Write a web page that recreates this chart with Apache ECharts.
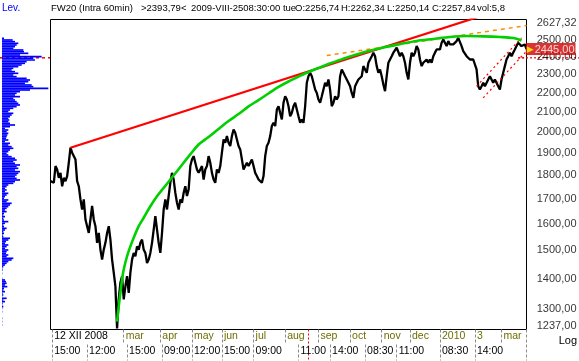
<!DOCTYPE html>
<html><head><meta charset="utf-8">
<script src="https://cdn.jsdelivr.net/npm/echarts@6/dist/echarts.min.js"></script>
<style>html,body{margin:0;padding:0;background:#fff}#c{width:579px;height:361px}</style>
</head><body><div id="c"></div>
<script>
// ---- hourly closes (FW20, 60 min bars, sampled) ----
const closes = [
1774,1781,1767,1840,1825,1788,1810,1752,1788,1774,
1796,1855,1924,1901,1908,1870,1774,1752,1697,1656,
1697,1616,1590,1564,1616,1670,1616,1590,1527,1564,
1502,1466,1502,1527,1564,1590,1539,1466,1420,1374,
1240,1331,1386,1408,1331,1374,1408,1352,1420,1466,
1490,1478,1514,1502,1527,1539,1502,1490,1454,1466,
1490,1527,1577,1629,1577,1527,1490,1564,1656,1697,
1656,1711,1767,1810,1781,1724,1683,1656,1697,1683,
1724,1752,1711,1738,1840,1870,1885,1855,1825,1810,
1825,1840,1781,1825,1840,1885,1855,1810,1781,1767,
1825,1810,1840,1901,1963,1947,1979,1947,1932,1979,
2011,1995,1963,1932,1916,1870,1825,1840,1855,1840,
1855,1870,1840,1810,1796,1781,1781,1767,1796,1885,
1932,1947,1979,2028,2044,2028,2111,2128,2094,2061,
2146,2180,2163,2128,2077,2094,2128,2146,2111,2077,
2044,2061,2044,2128,2253,2289,2308,2289,2253,2216,
2198,2163,2146,2180,2216,2253,2234,2271,2216,2128,
2146,2180,2163,2180,2289,2327,2308,2289,2271,2253,
2234,2198,2172,2234,2253,2271,2262,2289,2346,2327,
2308,2365,2384,2403,2424,2403,2346,2308,2327,2289,
2243,2207,2289,2365,2384,2403,2424,2433,2453,2443,
2403,2424,2403,2365,2308,2271,2365,2424,2403,2424,
2463,2443,2384,2346,2365,2355,2384,2365,2384,2365,
2403,2424,2443,2433,2443,2483,2503,2483,2463,2493,
2473,2483,2473,2483,2493,2513,2503,2463,2433,2424,
2403,2394,2384,2394,2384,2394,2327,2234,2216,2234,
2253,2234,2243,2271,2289,2271,2253,2271,2253,2234,
2216,2271,2308,2346,2384,2403,2424,2403,2424,2443,
2463,2483,2473,2463,2453,2473,2445
];

// ---- volume-at-price profile (top price level first) ----
const profileVolumes = [
6,32,39,49,44,39,34,64,66,79,
54,119,94,99,74,69,59,49,34,29,
39,49,34,44,74,84,79,69,89,94,
139,84,54,44,39,54,34,39,44,49,
54,44,34,24,19,34,29,24,19,22,
19,24,39,24,9,19,14,19,16,14,
12,19,9,24,19,29,34,24,19,14,
19,29,39,44,34,39,54,44,49,39,
54,49,44,39,44,54,39,34,19,14,
9,14,9,19,14,9,6,19,14,29,
24,19,14,9,14,6,4,9,4,6,
19,9,4,6,14,9,4,6,2,4,
24,19,12,9,19,14,9,19,14,12,
19,14,34,29,19,14,9,4,1,2,
0,1,0,0,1,9,12,14,9,16,
6,4,9,2,4,1,14,4,9,2,
1,4,1,0,1,0,0,0,1,0,
1,0,1
];

// ---- drawing tools (bar index, price) ----
const greenIdx = [40,41,42,43,44,46,48,50,53,56,60,64,68,72,76,80,84,89,95,101,107,113,119,125,131,137,143,149,155,161,167,173,180,190,200,210,220,230,240,250,260,270,278,283];
const greenVal = [1261,1309,1352,1397,1431,1478,1514,1546,1590,1623,1669,1710,1745,1781,1817,1855,1893,1939,1975,2014,2053,2088,2127,2160,2195,2230,2260,2287,2313,2335,2358,2378,2401,2431,2455,2475,2494,2506,2518,2524,2522,2518,2512,2497];
const trendIdx = [12, 286];
const trendVal = [1924, 2745];
const tangentIdx = [166, 286];
const tangentVal = [2407, 2589];
const chanUpIdx = [256, 283];
const chanUpVal = [2234, 2513];
const chanLoIdx = [260, 286];
const chanLoVal = [2172, 2433];
const levelPrice = 2393.79;
const levelIdx = [281, 286];

// ---- axis ----
const yMin = 1237, yMax = 2627.32;
const yTicks = [2627.32, 2500, 2400, 2300, 2200, 2100, 2000, 1900, 1800, 1700, 1600, 1500, 1400, 1300, 1237];
const monthTickIdx = [1, 44, 66, 85, 103, 122, 141, 161, 180, 199, 216, 234, 255, 271];
const monthTickText = ['12 XII 2008','mar','apr','may','jun','jul','aug','sep','oct','nov','dec','2010','3','mar'];
const timeTickIdx = [1, 22, 46, 67, 85, 103, 122, 149, 168, 189, 208, 234, 255];
const timeTickText = ['15:00','12:00','15:00','09:00','12:00','15:00','09:00','11:00','14:00','08:30','11:00','08:30','14:00'];
const cursorIdx = 155;

// ---- header texts ----
const headerTexts = ['FW20 (Intra 60min)', '>2393,79<', '2009-VIII-2508:30:00 tue', 'O:2256,74', 'H:2262,34', 'L:2250,14', 'C:2257,84', 'vol:5,8'];
const headerLeft = [51, 141, 191, 295, 341, 387, 432, 477];

const N = closes.length;
const lastPrice = closes[N - 1];
const categories = closes.map((_, i) => String(i));
const fmt = v => v.toFixed(2).replace('.', ',');
const monthMap = {}; monthTickIdx.forEach((k, j) => monthMap[k] = monthTickText[j]);
const timeMap = {}; timeTickIdx.forEach((k, j) => timeMap[k] = timeTickText[j]);
const FONT = 'Liberation Sans';
const pairs = (ix, vs) => ix.map((k, j) => [k, vs[j]]);

const titles = [{text: 'Lev.', left: 2, top: 3, padding: 0, textStyle: {color: '#0000ff', fontSize: 10, fontWeight: 'normal', fontFamily: FONT}}];
headerTexts.forEach((t, j) => titles.push({text: t, left: headerLeft[j], top: 3, padding: 0,
  textStyle: {color: '#000', fontSize: 9.5, fontWeight: 'normal', fontFamily: FONT}}));
titles.push({text: 'Log', right: 2, top: 335, padding: 0, textStyle: {color: '#000', fontSize: 11, fontWeight: 'normal', fontFamily: FONT}});

const tickLabelData = yTicks.map(v => {
  const d = {value: [1, v]};
  if (v === yMax) d.label = {offset: [0, 3]};
  if (v === yMin) d.label = {offset: [0, -4]};
  return d;
});

const hiddenLog = gi => ({gridIndex: gi, type: 'log', min: yMin, max: yMax, show: false});

const option = {
  animation: false,
  backgroundColor: '#fff',
  textStyle: {fontFamily: FONT},
  title: titles,
  grid: [
    {left: 50.5, top: 19.5, width: 476, height: 310, show: true, borderColor: '#000', borderWidth: 1, backgroundColor: 'transparent'},
    {left: 2, width: 50, top: 37.5, height: 288.3},
    {left: 518, right: 0, top: 19.5, height: 310},
    {left: 0, width: 50, top: 19.5, height: 310}
  ],
  xAxis: [
    {gridIndex: 0, type: 'category', data: categories, boundaryGap: false,
      axisLine: {show: false}, splitLine: {show: false},
      axisTick: {show: true, length: 15, interval: (i) => (i in monthMap) || i === N - 1, lineStyle: {color: '#8a8a8a', type: [3, 2]}},
      axisLabel: {show: true, interval: (i) => i in monthMap, align: 'left', margin: 1, padding: [0, 0, 0, 2],
        formatter: (v, i) => (+v === 1 ? '{k|' : '{m|') + monthMap[+v] + '}',
        rich: {k: {color: '#000', fontSize: 10.5, fontFamily: FONT}, m: {color: '#6e6e00', fontSize: 10.5, fontFamily: FONT}}}},
    {gridIndex: 0, type: 'category', data: categories, boundaryGap: false, position: 'bottom', offset: 15,
      axisLine: {show: false}, splitLine: {show: false},
      axisTick: {show: true, length: 16, interval: (i) => (i in timeMap) || i === N - 1, lineStyle: {color: '#8a8a8a', type: [3, 2]}},
      axisLabel: {show: true, interval: (i) => i in timeMap, align: 'left', margin: 1, padding: [0, 0, 0, 2],
        formatter: (v) => timeMap[+v], color: '#000', fontSize: 10.5, fontFamily: FONT}},
    {gridIndex: 0, type: 'category', data: categories, boundaryGap: false, position: 'bottom',
      axisLine: {show: false}, splitLine: {show: false}, axisLabel: {show: false},
      axisTick: {show: true, length: 31, interval: (i) => i === cursorIdx, lineStyle: {color: '#ff0000', type: [2, 2]}}},
    {gridIndex: 1, type: 'value', min: 0, max: 150, show: false},
    {gridIndex: 2, type: 'value', min: 0, max: 1, show: false},
    {gridIndex: 3, type: 'value', min: 0, max: 1, show: false}
  ],
  yAxis: [
    hiddenLog(0),
    {gridIndex: 1, type: 'category', inverse: true, data: profileVolumes.map((_, i) => i), show: false},
    hiddenLog(2),
    hiddenLog(3)
  ],
  series: [
    // volume profile
    {type: 'bar', xAxisIndex: 3, yAxisIndex: 1, data: profileVolumes, barCategoryGap: '0%', itemStyle: {color: '#0000ff'}, z: 3},
    // level line on the left profile
    {type: 'line', xAxisIndex: 5, yAxisIndex: 3, data: [[0, levelPrice], [1, levelPrice]], symbol: 'none',
      lineStyle: {color: '#ff0000', width: 1.5, type: [3, 3]}, z: 1},
    // price
    {type: 'line', xAxisIndex: 0, yAxisIndex: 0, data: closes, symbol: 'none', lineStyle: {color: '#000', width: 2.3}, z: 3},
    // trend line
    {type: 'line', data: pairs(trendIdx, trendVal), symbol: 'none', lineStyle: {color: '#ff0000', width: 2.2}, z: 4},
    // green arc
    {type: 'line', data: pairs(greenIdx, greenVal), symbol: 'none', smooth: 0.3, lineStyle: {color: '#00d000', width: 2.6}, z: 5},
    // orange dashed tangent
    {type: 'line', data: pairs(tangentIdx, tangentVal), symbol: 'none', lineStyle: {color: '#ff8c00', width: 1.5, type: [4, 4]}, z: 4},
    // red dotted channel
    {type: 'line', data: pairs(chanUpIdx, chanUpVal), symbol: 'none', lineStyle: {color: '#ff0000', width: 1.2, type: [2, 3]}, z: 4},
    {type: 'line', data: pairs(chanLoIdx, chanLoVal), symbol: 'none', lineStyle: {color: '#ff0000', width: 1.2, type: [2, 3]}, z: 4},
    // level line (right, inside plot)
    {type: 'line', data: pairs(levelIdx, [levelPrice, levelPrice]), symbol: 'none', lineStyle: {color: '#ff0000', width: 1.2, type: [2, 2]}, z: 4},
    // level line on right axis area
    {type: 'line', xAxisIndex: 4, yAxisIndex: 2, data: [[0, levelPrice], [1, levelPrice]], symbol: 'none',
      lineStyle: {color: '#ff0000', width: 1.2, type: [2, 2]}, z: 2},
    // right tick labels
    {type: 'scatter', xAxisIndex: 4, yAxisIndex: 2, data: tickLabelData, symbol: 'circle', symbolSize: 1,
      itemStyle: {color: 'rgba(0,0,0,0)'}, silent: true, z: 5,
      label: {show: true, position: 'left', distance: 2, color: '#000', fontSize: 11, fontFamily: FONT,
        formatter: p => fmt(p.value[1])}},
    // last price tag
    {type: 'scatter', xAxisIndex: 4, yAxisIndex: 2, data: [[1, lastPrice]], symbol: 'circle', symbolSize: 1,
      itemStyle: {color: 'rgba(0,0,0,0)'}, silent: true, z: 10,
      label: {show: true, position: 'left', distance: 3, backgroundColor: '#d00000', padding: [1, 1, 0, 1],
        formatter: p => '{t|\u25B6}{v|' + fmt(p.value[1]) + '}',
        rich: {t: {color: '#ffff00', fontSize: 9, fontFamily: 'DejaVu Sans', padding: [0, 1, 0, 0]},
               v: {color: '#fff', fontSize: 11, fontFamily: FONT}}}}
  ]
};

const chart = echarts.init(document.getElementById('c'));
chart.setOption(option);
</script>
</body></html>
